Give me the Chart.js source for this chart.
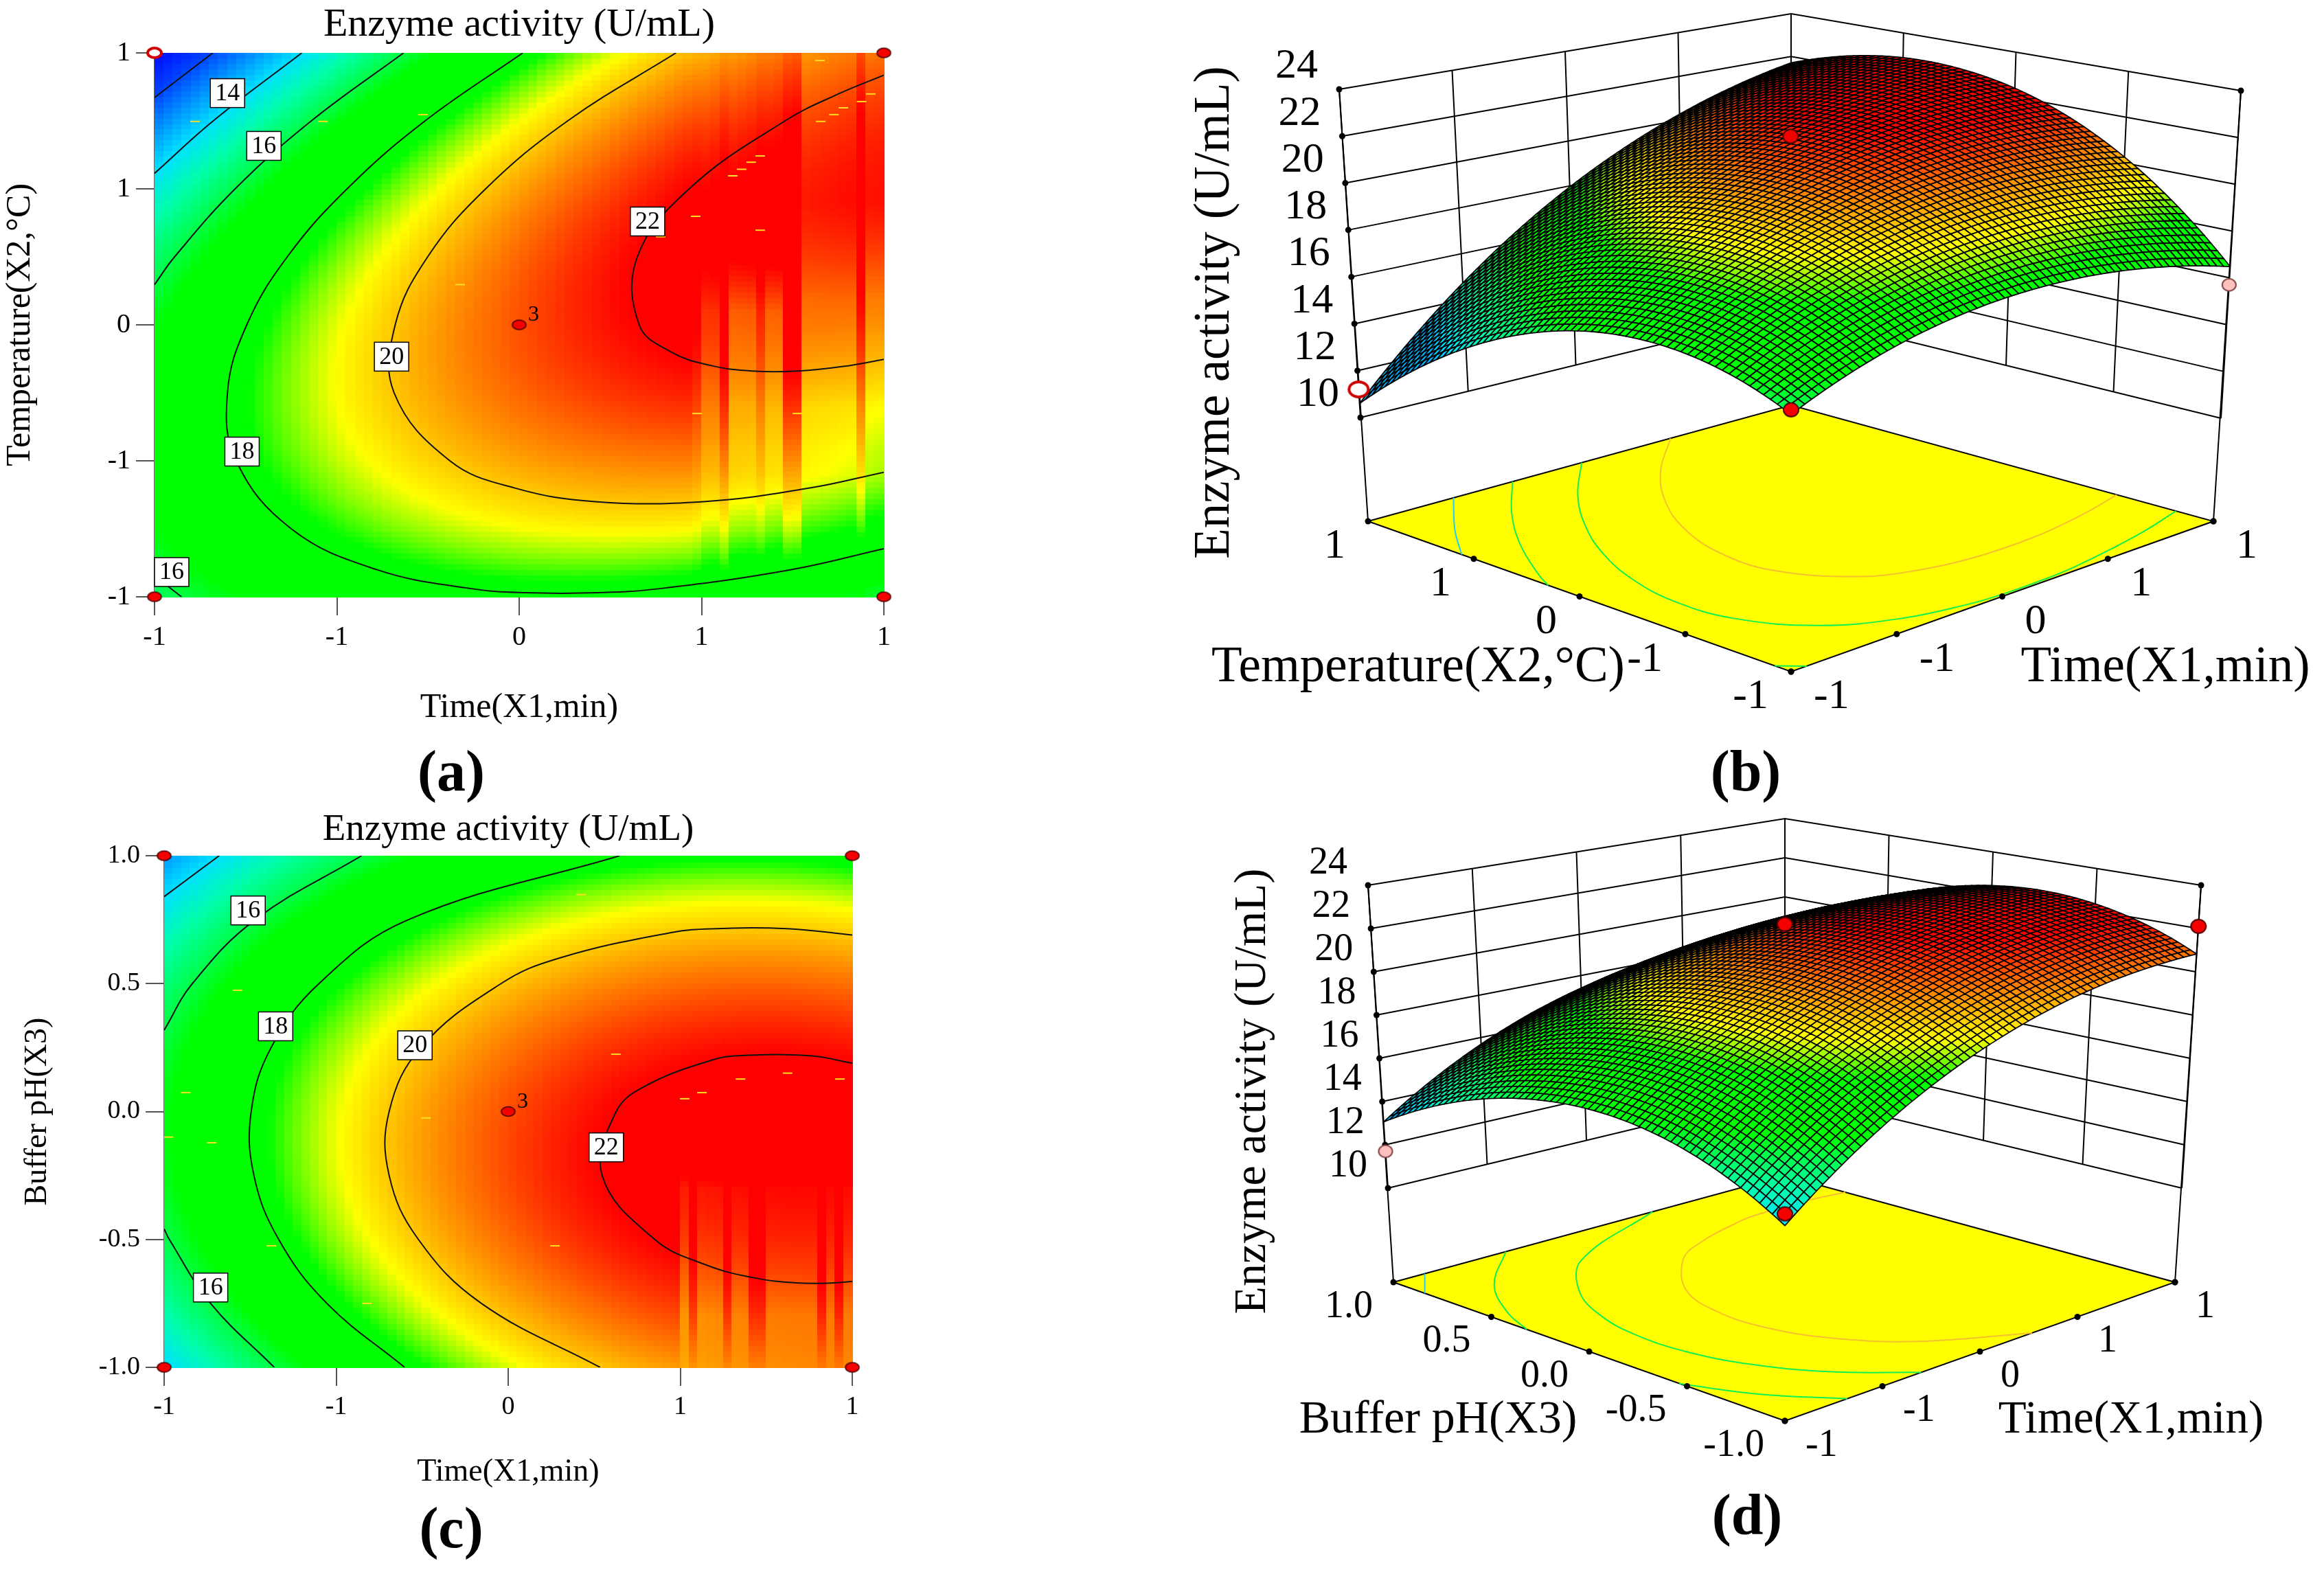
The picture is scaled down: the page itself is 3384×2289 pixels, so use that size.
<!DOCTYPE html>
<html><head><meta charset="utf-8">
<style>
html,body{margin:0;padding:0;background:#fff;width:3384px;height:2289px;overflow:hidden}
canvas{position:absolute;display:block}
.tag{position:absolute;font:bold 84px "Liberation Serif";color:#000;transform:translate(-50%,-50%);white-space:nowrap}
</style>
<script src="https://cdn.jsdelivr.net/npm/chart.js@4"></script>
</head><body>
<div class="tag" style="left:657px;top:1122px">(a)</div>
<div class="tag" style="left:2542px;top:1122px">(b)</div>
<div class="tag" style="left:657px;top:2224px">(c)</div>
<div class="tag" style="left:2544px;top:2205px">(d)</div>
<canvas id="a" style="left:0;top:0" width="1526" height="1130"></canvas>
<canvas id="b" style="left:1700px;top:0" width="1684" height="1090"></canvas>
<canvas id="c" style="left:0;top:1170px" width="1496" height="1030"></canvas>
<canvas id="d" style="left:1700px;top:1170px" width="1684" height="1010"></canvas>
<script>
// ---------- values ----------
const codedStops=[-1,-0.75,-0.5,-0.25,0,0.25,0.5,0.75,1];
const chartTitle='Enzyme activity (U/mL)';
const timeLabel='Time(X1,min)';
const tempLabel='Temperature(X2,°C)';
const phLabel='Buffer pH(X3)';
const tickLabelsInt=['-1','-1','0','1','1'];
const tickLabelsPh=['-1.0','-0.5','0.0','0.5','1.0'];
const zTicks=[10,12,14,16,18,20,22,24];
// activity at rows y=-1..1 (first row y=-1), columns x=-1..1
const gridTimeTemp=[
[15.72,16.60,17.26,17.69,17.90,17.88,17.64,17.17,16.48],
[16.52,17.56,18.38,18.98,19.35,19.49,19.41,19.10,18.57],
[16.91,18.12,19.10,19.85,20.38,20.69,20.77,20.62,20.26],
[16.89,18.26,19.40,20.32,21.01,21.48,21.72,21.73,21.53],
[16.46,17.98,19.29,20.37,21.22,21.85,22.25,22.43,22.39],
[15.61,17.30,18.77,20.00,21.02,21.81,22.38,22.72,22.83],
[14.35,16.20,17.83,19.23,20.41,21.36,22.09,22.59,22.87],
[12.68,14.69,16.48,18.04,19.38,20.50,21.39,22.05,22.49],
[10.60,12.77,14.72,16.45,17.95,19.22,20.27,21.10,21.70]];
const gridTimePh=[
[13.90,15.57,17.02,18.23,19.21,19.96,20.48,20.76,20.82],
[15.08,16.73,18.14,19.32,20.27,20.99,21.48,21.74,21.76],
[15.90,17.51,18.90,20.05,20.97,21.66,22.11,22.34,22.33],
[16.35,17.93,19.28,20.40,21.29,21.95,22.38,22.57,22.54],
[16.43,17.98,19.30,20.39,21.25,21.88,22.27,22.44,22.37],
[16.14,17.66,18.95,20.01,20.84,21.44,21.80,21.93,21.84],
[15.49,16.98,18.23,19.26,20.06,20.62,20.96,21.06,20.93],
[14.46,15.92,17.15,18.14,18.91,19.45,19.75,19.82,19.66],
[13.06,14.49,15.69,16.66,17.39,17.90,18.17,18.21,18.02]];
const contoursA={
 12:[[[-1,0.836],[-0.84,1]]],
 14:[[[-1,0.557],[-0.839,0.75],[-0.596,1]]],
 16:[[[-1,0.148],[-0.945,0.25],[-0.779,0.5],[-0.57,0.75],[-0.317,1]],[[-1,-0.923],[-0.926,-1]]],
 18:[[[0.01,1],[-0.258,0.75],[-0.472,0.5],[-0.636,0.25],[-0.747,0],[-0.8,-0.25],[-0.776,-0.5],[-0.625,-0.75],[-0.391,-0.9],[-0.131,-0.97],[0.018,-0.985],[0.215,-0.985],[0.385,-0.97],[0.746,-0.9],[1,-0.823]]],
 20:[[[0.43,1],[0.133,0.75],[-0.092,0.5],[-0.251,0.25],[-0.34,0],[-0.343,-0.25],[-0.19,-0.5],[-0.012,-0.6],[0.209,-0.65],[0.505,-0.65],[0.797,-0.6],[1,-0.542]]],
 22:[[[1,0.918],[0.877,0.85],[0.729,0.75],[0.466,0.5],[0.324,0.25],[0.329,0],[0.417,-0.1],[0.527,-0.15],[0.639,-0.17],[0.764,-0.17],[0.905,-0.15],[1,-0.127]]]
};
const contoursC={
 14:[[[-1,0.84],[-0.84,1]]],
 16:[[[-1,0.318],[-0.918,0.5],[-0.735,0.75],[-0.426,1]],[[-1,-0.459],[-0.985,-0.5],[-0.865,-0.75],[-0.68,-1]]],
 18:[[[0.324,1],[-0.29,0.75],[-0.55,0.5],[-0.689,0.25],[-0.747,0],[-0.739,-0.25],[-0.667,-0.5],[-0.527,-0.75],[-0.301,-1]]],
 20:[[[1,0.69],[0.81,0.715],[0.605,0.715],[0.476,0.7],[0.149,0.6],[-0.021,0.5],[-0.254,0.25],[-0.346,0],[-0.346,-0.25],[-0.261,-0.5],[-0.078,-0.75],[0.267,-1]]],
 22:[[[1,0.189],[0.877,0.218],[0.67,0.218],[0.589,0.2],[0.399,0.1],[0.314,0],[0.273,-0.25],[0.426,-0.5],[0.576,-0.6],[0.714,-0.65],[0.838,-0.67],[0.946,-0.67],[1,-0.664]]]
};
const contourTagsA=[['14',-0.80,0.852],['16',-0.70,0.658],['18',-0.76,-0.466],['20',-0.35,-0.117],['22',0.352,0.38],['16',-0.953,-0.909]];
const contourTagsC=[['16',-0.756,0.786],['18',-0.676,0.333],['20',-0.271,0.259],['22',0.285,-0.14],['16',-0.865,-0.688]];
// vertical colour bands: x from, x to, activity shift, which strength profile
const columnsA=[[0.475,0.501,-0.2,0],[0.501,0.55,-0.8,0],[0.55,0.576,0,0],[0.576,0.652,-1.3,0],[0.652,0.676,-0.8,0],[0.676,0.727,-1.4,0],[0.727,0.776,0,0],[0.776,0.926,-1.7,1],[0.926,0.949,-0.7,1],[0.949,1,-1.9,1]];
// strength profiles: y, strength
const strengthA=[[[-1,0.2],[-0.75,0.3],[-0.55,0.5],[-0.45,0.75],[-0.3,1],[0.05,1],[0.3,0.2],[1,0.1]],
                 [[-1,0.2],[-0.75,0.3],[-0.55,0.5],[-0.45,0.75],[-0.3,1],[0.1,0.95],[0.45,0.55],[1,0.4]]];
const columnsC=[[0.5,0.528,-0.8,0],[0.551,0.626,-0.8,0],[0.652,0.7,-0.8,0],[0.75,0.902,-0.8,0],[0.929,0.955,-0.8,0],[0.979,1,-0.8,0]];
const strengthC=[[[-1,0.2],[-0.8,1],[-0.3,0.8],[-0.15,0],[1,0]]];
// short yellow flecks in the colour fields
const flecksA=[[0.825,0.972],[0.964,0.849],[0.889,0.798],[0.939,0.821],[0.827,0.748],[0.863,0.773],[0.661,0.621],[0.636,0.598],[0.61,0.572],[0.586,0.548],[0.484,0.399],[0.661,0.348],[0.388,0.324],[-0.162,0.148],[0.488,-0.326],[0.763,-0.326],[-0.264,0.773],[-0.538,0.748],[-0.889,0.748]];
const flecksC=[[-0.787,0.474],[-0.937,0.074],[-0.862,-0.122],[-0.987,-0.1],[-0.688,-0.525],[-0.411,-0.75],[-0.239,-0.025],[0.212,0.848],[0.313,0.224],[0.136,-0.525],[0.513,0.05],[0.563,0.074],[0.675,0.127],[0.812,0.15],[0.964,0.127]];
const designA=[[1,1],[-1,-1],[1,-1],[0,0]];
const openA=[[-1,1]];
const designC=[[-1,1],[1,1],[-1,-1],[1,-1],[0,0]];
// observed runs in the 3D views: x, y, activity
const runsRedB=[[0,0,22.4],[-1,-1,15.9]];
const runsPinkB=[[1,-1,15.7]];
const runsOpenB=[[-1,1,11.2]];
const runsRedD=[[0,0,22.6],[1,-1,22.1],[-1,-1,14.4]];
const runsPinkD=[[-1,1,11.7]];
// colour ramp: activity, r, g, b
const heatStops=[[10.5,0,0,255],[12,0,70,255],[14,0,225,255],[15,0,255,170],[16,0,255,70],[16.6,0,255,0],[18.3,0,255,0],[18.8,120,255,0],[19.4,255,255,0],[20,255,200,0],[21,255,105,0],[22,255,0,0],[24,255,0,0]];
const floorLevelsColors={14:'#20d0f0',16:'#10f050',18:'#10f050',20:'#f5c030'};

// ---------- helpers ----------
function colorOf(v){
 const s=heatStops;
 if(v<=s[0][0])return `rgb(${s[0][1]},${s[0][2]},${s[0][3]})`;
 for(let i=1;i<s.length;i++){ if(v<=s[i][0]){
  const t=(v-s[i-1][0])/(s[i][0]-s[i-1][0]);
  return `rgb(${Math.round(s[i-1][1]+t*(s[i][1]-s[i-1][1]))},${Math.round(s[i-1][2]+t*(s[i][2]-s[i-1][2]))},${Math.round(s[i-1][3]+t*(s[i][3]-s[i-1][3]))})`;
 }}
 const l=s[s.length-1];return `rgb(${l[1]},${l[2]},${l[3]})`;
}
function strengthAt(profile,y){
 for(let i=1;i<profile.length;i++){ if(y<=profile[i][0]){
  const a=profile[i-1],b=profile[i];
  return a[1]+(y-a[0])/(b[0]-a[0])*(b[1]-a[1]);
 }}
 return profile[profile.length-1][1];
}
function smoothAt(grid,xv,yv){
 const n=grid.length-1;
 const g=(r,c)=>{
  if(c<0)return 3*g(r,0)-3*g(r,1)+g(r,2);
  if(c>n)return 3*g(r,n)-3*g(r,n-1)+g(r,n-2);
  if(r<0)return 3*g(0,c)-3*g(1,c)+g(2,c);
  if(r>n)return 3*g(n,c)-3*g(n-1,c)+g(n-2,c);
  return grid[r][c];};
 const cr=(a,b,c,d,t)=>b+0.5*t*(c-a+t*(2*a-5*b+4*c-d+t*(3*(b-c)+d-a)));
 const u=(xv+1)/2*n,w=(yv+1)/2*n;
 const i=Math.min(n-1,Math.max(0,Math.floor(u))),j=Math.min(n-1,Math.max(0,Math.floor(w)));
 const fu=u-i,fw=w-j,r=[];
 for(let k=-1;k<=2;k++)r.push(cr(g(j+k,i-1),g(j+k,i),g(j+k,i+1),g(j+k,i+2),fu));
 return cr(r[0],r[1],r[2],r[3],fw);
}
function gridPoints(grid){
 const out=[];
 grid.forEach((row,j)=>row.forEach((v,i)=>out.push({x:codedStops[i],y:codedStops[j],v})));
 return out;
}
function ellipseMark(fill,stroke,rx,ry,lw){
 const c=document.createElement('canvas');c.width=2*rx+2*lw+2;c.height=2*ry+2*lw+2;
 const g=c.getContext('2d');g.beginPath();g.ellipse(c.width/2,c.height/2,rx,ry,0,0,7);
 g.fillStyle=fill;g.fill();g.lineWidth=lw;g.strokeStyle=stroke;g.stroke();return c;
}
const serif='"Liberation Serif"';
function put(ctx,s,x,y,size,align,rot){
 ctx.save();ctx.translate(x,y);if(rot)ctx.rotate(rot);
 ctx.font=`${size}px ${serif}`;ctx.textAlign=align||'center';ctx.textBaseline='middle';ctx.fillStyle='#000';
 ctx.fillText(s,0,0);ctx.restore();
}

// ---------- contour panels ----------
function heatChart(id,o){
 const W=o.w,H=o.h;
 const lines=[];
 Object.keys(o.contours).forEach(l=>o.contours[l].forEach(seg=>lines.push({
   type:'scatter',label:'level '+l,data:seg.map(p=>({x:p[0],y:p[1]})),showLine:true,pointRadius:0,borderColor:'#111',borderWidth:2,tension:0.4,order:3})));
 const plugin={id:'field'+id,
  afterLayout(ch){ if(ch.titleBlock){ch.titleBlock.left=0;ch.titleBlock.right=o.left+o.right;} },
  beforeDatasetsDraw(ch){
   const c=ch.ctx,xs=ch.scales.x,ys=ch.scales.y,cols=80,rows=o.rows;
   for(let i=0;i<cols;i++){
    const x0=-1+2*i/cols,x1=-1+2*(i+1)/cols,xc=(x0+x1)/2;
    const px0=xs.getPixelForValue(x0),px1=xs.getPixelForValue(x1);
    const col=o.columns.find(b=>xc>=b[0]&&xc<b[1]);
    for(let j=0;j<rows;j++){
     const y0=-1+2*j/rows,y1=-1+2*(j+1)/rows,yc=(y0+y1)/2;
     let v=smoothAt(o.grid,xc,yc);
     if(col)v+=col[2]*strengthAt(o.strength[col[3]],yc);
     const py1=ys.getPixelForValue(y1),py0=ys.getPixelForValue(y0);
     c.fillStyle=colorOf(v);
     c.fillRect(Math.floor(px0),Math.floor(py1),Math.ceil(px1-px0)+1,Math.ceil(py0-py1)+1);
    }
   }
  },
  afterDatasetsDraw(ch){
   const c=ch.ctx,xs=ch.scales.x,ys=ch.scales.y;
   c.save();
   o.tags.forEach(t=>{
    const x=xs.getPixelForValue(t[1]),y=ys.getPixelForValue(t[2]);
    c.fillStyle='#fff';c.strokeStyle='#000';c.lineWidth=1.5;
    c.fillRect(x-25,y-21,50,42);c.strokeRect(x-25,y-21,50,42);
    put(c,t[0],x,y+1,36);
   });
   put(c,'3',xs.getPixelForValue(0)+21,ys.getPixelForValue(0)-14,32);
   c.restore();
  }};
 const mark=ellipseMark('#f40000','#400000',10,7,1.6);
 const open=ellipseMark('#ffffff','#d00000',10,7,4);
 const tickCb=labels=>function(v){const k=Math.round((v+1)*2);return labels[k];};
 const axis=(labels,title,fit,fs,ts,tp)=>({min:-1,max:1,
   ticks:{stepSize:0.5,callback:tickCb(labels),color:'#000',font:{family:serif,size:fs},padding:8,maxRotation:0,autoSkip:false},
   grid:{drawOnChartArea:false,tickLength:27,tickColor:'#555',tickWidth:2,lineWidth:2,color:'#555'},
   border:{color:'#666',width:2},
   title:{display:true,text:title,color:'#000',font:{family:serif,size:ts,lineHeight:1},padding:tp},
   afterFit:fit});
 return new Chart(document.getElementById(id),{type:'scatter',plugins:[plugin],
  data:{datasets:[
   {label:'design points',data:o.design.map(p=>({x:p[0],y:p[1]})),pointStyle:mark,pointRadius:8,clip:false,showLine:false,order:1},
   {label:'lowest run',data:o.open.map(p=>({x:p[0],y:p[1]})),pointStyle:open,pointRadius:8,clip:false,showLine:false,order:1},
   ...lines,
   {label:'flecks',data:o.flecks.map(p=>({x:p[0],y:p[1]})),pointStyle:'line',pointRadius:7,pointBorderColor:'#ffe020',pointBorderWidth:2,showLine:false,order:4},
   {label:'activity field',data:gridPoints(o.grid),pointRadius:0,showLine:false,order:9}
  ]},
  options:{responsive:false,animation:false,devicePixelRatio:1,
   layout:{autoPadding:false,padding:{left:0,top:0,bottom:0,right:W-o.right}},
   plugins:{legend:{display:false},tooltip:{enabled:false},
    title:{display:true,text:chartTitle,color:'#000',font:{family:serif,size:o.titleFont,weight:'normal',lineHeight:1},padding:{top:o.top-o.titleFont-o.titleGap,bottom:o.titleGap}}},
   scales:{
    x:axis(tickLabelsInt,timeLabel,s=>{s.height=H-o.bottom;},o.tick,o.axisFont,{bottom:o.xTitleBottom,top:0}),
    y:axis(o.yTicks,o.yTitle,s=>{s.width=o.left;},o.tick,o.axisFont,{top:o.yTitleLeft,bottom:0})
   }}});
}
heatChart('a',{w:1526,h:1130,left:225,right:1287,top:77,bottom:869,titleFont:58,titleGap:11,rows:100,grid:gridTimeTemp,contours:contoursA,tags:contourTagsA,columns:columnsA,strength:strengthA,flecks:flecksA,design:designA,open:openA,yTicks:tickLabelsInt,yTitle:tempLabel,tick:40,axisFont:50,xTitleBottom:74,yTitleLeft:5});
heatChart('c',{w:1496,h:1030,left:239,right:1241,top:76,bottom:821,titleFont:55,titleGap:10,rows:93,grid:gridTimePh,contours:contoursC,tags:contourTagsC,columns:columnsC,strength:strengthC,flecks:flecksC,design:designC,open:[],yTicks:tickLabelsPh,yTitle:phLabel,tick:38,axisFont:46,xTitleBottom:33,yTitleLeft:32});

// ---------- 3D panels ----------
function surfaceChart(id,o){
 const W=o.w,H=o.h,C=o.corners,F=o.floor;
 const mix=(q,x,y)=>{const s=(x+1)/2,t=(y+1)/2;
   return [0,1].map(k=>(1-s)*(1-t)*q.F[k]+s*(1-t)*q.R[k]+(1-s)*t*q.L[k]+s*t*q.B[k]);};
 const P=(x,y,z)=>{const a=mix(C.z10,x,y),b=mix(C.z24,x,y),t=(z-10)/14;return {x:a[0]+t*(b[0]-a[0]),y:a[1]+t*(b[1]-a[1])};};
 const Pf=(x,y)=>{const a=mix(F,x,y);return {x:a[0],y:a[1]};};
 const ds=[];
 const line=(pts,color,w,order,label)=>ds.push({type:'scatter',label:label||'frame',data:pts,showLine:true,pointRadius:0,borderColor:color||'#000',borderWidth:w||2,order:order||7,clip:false,tension:0});
 // walls
 zTicks.forEach(z=>{line([P(-1,1,z),P(1,1,z),P(1,-1,z)]);});
 codedStops.filter((v,i)=>i%2==0).forEach(v=>{
   line([P(v,1,10),P(v,1,24)]);line([P(1,v,10),P(1,v,24)]);});
 line([P(-1,1,24),Pf(-1,1)]);line([P(1,-1,24),Pf(1,-1)]);
 // floor
 const floorLoop=[Pf(-1,1),Pf(-1,-1),Pf(1,-1),Pf(1,1),Pf(-1,1)];
 ds.push({type:'scatter',label:'floor',data:floorLoop,showLine:true,pointRadius:0,borderColor:'#000',borderWidth:2,order:6,clip:false,tension:0});
 Object.keys(floorLevelsColors).forEach(l=>{(o.contours[l]||[]).forEach(seg=>{
   ds.push({type:'scatter',label:'floor level '+l,data:seg.map(p=>Pf(p[0],p[1])),showLine:true,pointRadius:0,borderColor:floorLevelsColors[l],borderWidth:2,tension:0.4,order:5,clip:false});});});
 // tick dots
 const dots=[];
 zTicks.forEach(z=>dots.push(P(-1,1,z)));
 dots.push(P(1,-1,24));
 codedStops.filter((v,i)=>i%2==0).forEach(v=>{dots.push(Pf(-1,v));dots.push(Pf(v,-1));});
 dots.push(Pf(1,-1));
 ds.push({type:'scatter',label:'ticks',data:dots,pointRadius:4.5,pointBackgroundColor:'#000',pointBorderWidth:0,showLine:false,order:4,clip:false});
 // surface carrier
 ds.push({type:'scatter',label:'surface',data:gridPoints(o.grid).map(p=>P(p.x,p.y,p.v)),pointRadius:0,showLine:false,order:2,clip:false});
 const mk=(list,style,label,order)=>ds.push({type:'scatter',label,data:list.map(r=>P(r[0],r[1],r[2])),pointStyle:style,pointRadius:8,showLine:false,order:order||1,clip:false});
 mk(o.red,ellipseMark('#f40000','#500000',11,10,2),'runs');
 if(o.pink.length)mk(o.pink,ellipseMark('#ffc0c0','#804040',10,9,2),'runs below');
 if(o.open.length)mk(o.open,ellipseMark('#ffffff','#d00000',14,11,4),'lowest run');
 const plugin={id:'surf'+id,
  beforeDatasetDraw(ch,args){
   const c=ch.ctx,xs=ch.scales.x,ys=ch.scales.y,lab=ch.data.datasets[args.index].label;
   if(lab==='floor'){
     c.save();c.beginPath();floorLoop.forEach((p,i)=>{const X=xs.getPixelForValue(p.x),Y=ys.getPixelForValue(p.y);i?c.lineTo(X,Y):c.moveTo(X,Y);});
     c.closePath();c.fillStyle='#ffff00';c.fill();c.restore();
   }
   if(lab==='surface'){
     const N=o.mesh,nodes=[];
     for(let j=0;j<=N;j++){const r=[];for(let i=0;i<=N;i++){
       const x=-1+2*i/N,y=-1+2*j/N,v=smoothAt(o.grid,x,y),p=P(x,y,v);
       r.push({X:xs.getPixelForValue(p.x),Y:ys.getPixelForValue(p.y),v});}nodes.push(r);}
     c.save();c.lineWidth=o.meshLine;c.strokeStyle='#000';c.lineJoin='round';
     for(let j=N-1;j>=0;j--)for(let i=N-1;i>=0;i--){
       const a=nodes[j][i],b=nodes[j][i+1],d=nodes[j+1][i+1],e=nodes[j+1][i];
       c.beginPath();c.moveTo(a.X,a.Y);c.lineTo(b.X,b.Y);c.lineTo(d.X,d.Y);c.lineTo(e.X,e.Y);c.closePath();
       c.fillStyle=colorOf(Math.max(13.4,(a.v+b.v+d.v+e.v)/4));c.fill();c.stroke();
     }
     c.restore();
   }
  },
  afterDatasetsDraw(ch){
   const c=ch.ctx;c.save();
   zTicks.forEach(z=>{const p=P(-1,1,z);put(c,String(z),p.x+o.zOff[0],p.y+o.zOff[1],o.tickFont);});
   codedStops.filter((v,i)=>i%2==0).forEach((v,i)=>{
     const a=Pf(-1,v);put(c,o.depthTicks[i],a.x-o.floorOff[0],a.y+o.floorOff[1],o.tickFont,'right');
     const b=Pf(v,-1);put(c,tickLabelsInt[i],b.x+o.floorOff[0],b.y+o.floorOff[1],o.tickFont,'left');
   });
   put(c,chartTitle,o.ztitle[0],o.ztitle[1],o.ztitle[2],'center',-Math.PI/2);
   put(c,o.depthTitle[0],o.depthTitle[1],o.depthTitle[2],o.depthTitle[3]);
   put(c,timeLabel,o.timeTitle[0],o.timeTitle[1],o.timeTitle[2]);
   c.restore();
  }};
 return new Chart(document.getElementById(id),{type:'scatter',plugins:[plugin],
  data:{datasets:ds},
  options:{responsive:false,animation:false,devicePixelRatio:1,layout:{autoPadding:false,padding:0},
   plugins:{legend:{display:false},tooltip:{enabled:false},title:{display:false}},
   scales:{x:{display:false,min:0,max:W},y:{display:false,min:0,max:H,reverse:true}}}});
}
// view corners are given in each canvas's own units (camera set-up, not data)
surfaceChart('b',{w:1684,h:1090,grid:gridTimeTemp,contours:contoursA,mesh:64,meshLine:1.8,
 corners:{z10:{L:[281,608],B:[908,455],R:[1534,609],F:[908,818]},z24:{L:[250,130],B:[908,20],R:[1563,132],F:[908,293]}},
 floor:{L:[292,759],B:[908,590],R:[1523,759],F:[908,978]},
 red:runsRedB,pink:runsPinkB,open:runsOpenB,
 zOff:[-62,-33],floorOff:[33,37],tickFont:62,depthTicks:tickLabelsInt,
 ztitle:[70,455,73],depthTitle:[tempLabel,365,973,73],timeTitle:[1453,973,73]});
surfaceChart('d',{w:1684,h:1010,grid:gridTimePh,contours:contoursC,mesh:64,meshLine:1.7,
 corners:{z10:{L:[321,560],B:[899,421],R:[1477,560],F:[899,749]},z24:{L:[292,119],B:[899,22],R:[1505,119],F:[899,267]}},
 floor:{L:[329,697],B:[899,542],R:[1467,697],F:[899,899]},
 red:runsRedD,pink:runsPinkD,open:[],
 zOff:[-58,-32],floorOff:[30,36],tickFont:56,depthTicks:tickLabelsPh,
 ztitle:[125,419,66],depthTitle:[phLabel,394,898,68],timeTitle:[1403,898,67]});
</script>
</body></html>
